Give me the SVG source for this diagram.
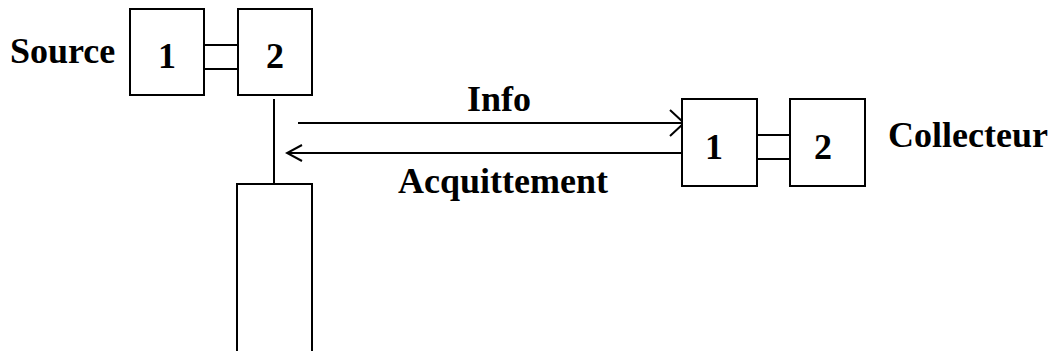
<svg xmlns="http://www.w3.org/2000/svg" width="1050" height="351" viewBox="0 0 1050 351">
<style>
.b{fill:#fff;stroke:#000;stroke-width:2}
.l{fill:none;stroke:#000;stroke-width:2}
.t{font-family:"Liberation Serif","Times New Roman",serif;font-weight:bold;font-size:36px;fill:#000}
</style>
<defs>
<marker id="ah" markerWidth="16" markerHeight="28" refX="15" refY="14" orient="auto" markerUnits="userSpaceOnUse">
<path d="M1,1 L15,14 L1,27" fill="none" stroke="#000" stroke-width="2"/>
</marker>
<marker id="ah2" markerWidth="18" markerHeight="20" refX="16" refY="10" orient="auto" markerUnits="userSpaceOnUse">
<path d="M1,2 L16,10 L1,18" fill="none" stroke="#000" stroke-width="2"/>
</marker>
</defs>
<rect width="1050" height="351" fill="#fff"/>
<g id="connectors">
<line class="l" x1="203" y1="45" x2="239" y2="45"/>
<line class="l" x1="203" y1="69" x2="239" y2="69"/>
<line class="l" x1="274" y1="99" x2="274" y2="185"/>
<line class="l" x1="298" y1="123" x2="684" y2="123" marker-end="url(#ah)"/>
<line class="l" x1="684" y1="153" x2="287" y2="153" marker-end="url(#ah2)"/>
<line class="l" x1="756" y1="135" x2="792" y2="135"/>
<line class="l" x1="756" y1="159" x2="792" y2="159"/>
</g>
<g id="source-label"><text class="t" x="10" y="63">Source</text></g>
<g id="source-1"><rect class="b" x="130" y="9" width="74" height="86"/><text class="t" x="167" y="68" text-anchor="middle">1</text></g>
<g id="source-2"><rect class="b" x="238" y="9" width="74" height="86"/><text class="t" x="275" y="68" text-anchor="middle">2</text></g>
<g id="buffer"><path class="l" d="M237,351 L237,184 L312,184 L312,351"/></g>
<g id="info-label"><text class="t" x="499" y="111" text-anchor="middle">Info</text></g>
<g id="ack-label"><text class="t" x="503" y="193" text-anchor="middle">Acquittement</text></g>
<g id="coll-1"><rect class="b" x="682" y="99" width="75" height="87"/><text class="t" x="714" y="159" text-anchor="middle">1</text></g>
<g id="coll-2"><rect class="b" x="790" y="99" width="75" height="87"/><text class="t" x="823" y="159" text-anchor="middle">2</text></g>
<g id="coll-label"><text class="t" x="888" y="147">Collecteur</text></g>
</svg>
